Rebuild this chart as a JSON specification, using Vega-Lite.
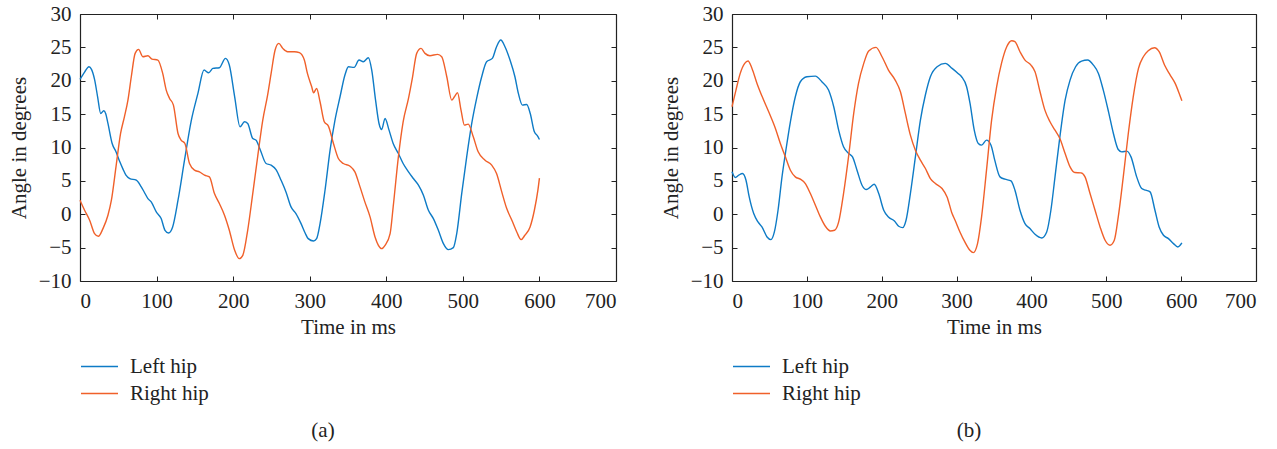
{
  "$schema": "https://vega.github.io/schema/vega-lite/v6.json",
  "padding": {"left": 8, "top": 3, "right": 5, "bottom": 2},
  "background": "white",
  "config": {
    "font": "Liberation Serif",
    "view": {"stroke": null},
    "axis": {
      "labelFont": "Liberation Serif", "titleFont": "Liberation Serif",
      "labelFontSize": 21, "titleFontSize": 21, "titleFontWeight": "normal",
      "labelColor": "#222", "titleColor": "#222",
      "domainColor": "#222", "tickColor": "#222", "domainWidth": 1.2, "tickWidth": 1,
      "grid": false, "tickSize": -5
    },
    "legend": {"labelFont": "Liberation Serif", "labelFontSize": 21, "labelColor": "#222"},
    "title": {"font": "Liberation Serif", "fontSize": 21, "fontWeight": "normal", "color": "#222"}
  },
  "datasets": {
    "a": [
      {"series":"Left hip","time":0,"angle":20.2},{"series":"Left hip","time":6,"angle":21.3},{"series":"Left hip","time":11.7,"angle":22.1},{"series":"Left hip","time":15,"angle":21.7},{"series":"Left hip","time":19,"angle":20.2},{"series":"Left hip","time":23,"angle":17.6},{"series":"Left hip","time":27,"angle":15.1},{"series":"Left hip","time":31,"angle":15.5},{"series":"Left hip","time":33.5,"angle":15.1},{"series":"Left hip","time":36.5,"angle":13.6},{"series":"Left hip","time":42,"angle":10.6},{"series":"Left hip","time":47,"angle":9.35},{"series":"Left hip","time":52,"angle":7.85},{"series":"Left hip","time":56,"angle":6.8},{"series":"Left hip","time":60,"angle":5.85},{"series":"Left hip","time":65,"angle":5.35},{"series":"Left hip","time":73.5,"angle":5.1},{"series":"Left hip","time":80,"angle":4.1},{"series":"Left hip","time":84,"angle":3.3},{"series":"Left hip","time":88.7,"angle":2.35},{"series":"Left hip","time":93,"angle":1.85},{"series":"Left hip","time":99.6,"angle":0.35},{"series":"Left hip","time":106,"angle":-0.65},{"series":"Left hip","time":111,"angle":-2.4},{"series":"Left hip","time":115.6,"angle":-2.8},{"series":"Left hip","time":121,"angle":-1.9},{"series":"Left hip","time":128,"angle":2.1},{"series":"Left hip","time":136.5,"angle":8.1},{"series":"Left hip","time":145,"angle":13.85},{"series":"Left hip","time":154,"angle":18.1},{"series":"Left hip","time":162,"angle":21.6},{"series":"Left hip","time":168,"angle":21.2},{"series":"Left hip","time":173.5,"angle":21.85},{"series":"Left hip","time":182,"angle":21.95},{"series":"Left hip","time":190,"angle":23.35},{"series":"Left hip","time":195,"angle":22.35},{"series":"Left hip","time":202,"angle":17.6},{"series":"Left hip","time":209,"angle":13.1},{"series":"Left hip","time":214.8,"angle":13.85},{"series":"Left hip","time":219,"angle":13.6},{"series":"Left hip","time":225.6,"angle":11.35},{"series":"Left hip","time":230,"angle":11.1},{"series":"Left hip","time":235.6,"angle":9.6},{"series":"Left hip","time":243,"angle":7.6},{"series":"Left hip","time":249.6,"angle":7.35},{"series":"Left hip","time":256,"angle":6.7},{"series":"Left hip","time":262.6,"angle":5.1},{"series":"Left hip","time":269,"angle":3.35},{"series":"Left hip","time":275.6,"angle":1.1},{"series":"Left hip","time":282,"angle":0.1},{"series":"Left hip","time":288.7,"angle":-1.4},{"series":"Left hip","time":294,"angle":-2.8},{"series":"Left hip","time":298,"angle":-3.65},{"series":"Left hip","time":305,"angle":-4.0},{"series":"Left hip","time":309,"angle":-3.65},{"series":"Left hip","time":313.5,"angle":-1.4},{"series":"Left hip","time":320,"angle":3.6},{"series":"Left hip","time":326.6,"angle":9.6},{"series":"Left hip","time":333,"angle":14.1},{"series":"Left hip","time":339.6,"angle":17.6},{"series":"Left hip","time":346,"angle":20.85},{"series":"Left hip","time":350.5,"angle":22.1},{"series":"Left hip","time":358,"angle":22.0},{"series":"Left hip","time":364.4,"angle":23.1},{"series":"Left hip","time":370,"angle":22.85},{"series":"Left hip","time":376.6,"angle":23.45},{"series":"Left hip","time":381,"angle":21.6},{"series":"Left hip","time":386,"angle":17.1},{"series":"Left hip","time":390.5,"angle":13.6},{"series":"Left hip","time":394,"angle":12.7},{"series":"Left hip","time":398.4,"angle":14.35},{"series":"Left hip","time":403.6,"angle":12.6},{"series":"Left hip","time":409,"angle":10.6},{"series":"Left hip","time":415.8,"angle":9.1},{"series":"Left hip","time":422,"angle":7.6},{"series":"Left hip","time":429,"angle":6.35},{"series":"Left hip","time":435.4,"angle":5.35},{"series":"Left hip","time":442,"angle":4.35},{"series":"Left hip","time":448.5,"angle":2.85},{"series":"Left hip","time":455,"angle":0.6},{"series":"Left hip","time":461.5,"angle":-0.65},{"series":"Left hip","time":468,"angle":-2.4},{"series":"Left hip","time":474.6,"angle":-4.4},{"series":"Left hip","time":481,"angle":-5.3},{"series":"Left hip","time":487.6,"angle":-5.0},{"series":"Left hip","time":492,"angle":-2.9},{"series":"Left hip","time":498.5,"angle":3.1},{"series":"Left hip","time":505,"angle":8.6},{"series":"Left hip","time":511.6,"angle":13.6},{"series":"Left hip","time":518,"angle":17.35},{"series":"Left hip","time":524.6,"angle":20.6},{"series":"Left hip","time":531,"angle":22.85},{"series":"Left hip","time":538.5,"angle":23.35},{"series":"Left hip","time":544,"angle":25.1},{"series":"Left hip","time":549.5,"angle":26.1},{"series":"Left hip","time":555,"angle":25.1},{"series":"Left hip","time":561.6,"angle":23.1},{"series":"Left hip","time":568,"angle":20.6},{"series":"Left hip","time":572.5,"angle":18.1},{"series":"Left hip","time":577.7,"angle":16.35},{"series":"Left hip","time":583.4,"angle":16.45},{"series":"Left hip","time":588,"angle":15.1},{"series":"Left hip","time":593.4,"angle":12.35},{"series":"Left hip","time":597,"angle":11.8},{"series":"Left hip","time":600,"angle":11.2},
      {"series":"Right hip","time":0,"angle":2.1},{"series":"Right hip","time":6,"angle":0.6},{"series":"Right hip","time":12.6,"angle":-0.9},{"series":"Right hip","time":19,"angle":-2.9},{"series":"Right hip","time":24,"angle":-3.3},{"series":"Right hip","time":30,"angle":-2.15},{"series":"Right hip","time":36.5,"angle":-0.15},{"series":"Right hip","time":41,"angle":2.1},{"series":"Right hip","time":47,"angle":7.1},{"series":"Right hip","time":53,"angle":12.1},{"series":"Right hip","time":58,"angle":14.6},{"series":"Right hip","time":62.6,"angle":17.1},{"series":"Right hip","time":67,"angle":20.6},{"series":"Right hip","time":72,"angle":24.1},{"series":"Right hip","time":76.5,"angle":24.7},{"series":"Right hip","time":82,"angle":23.6},{"series":"Right hip","time":88.7,"angle":23.75},{"series":"Right hip","time":94,"angle":23.25},{"series":"Right hip","time":101.7,"angle":23.1},{"series":"Right hip","time":108,"angle":21.1},{"series":"Right hip","time":112.6,"angle":18.6},{"series":"Right hip","time":117,"angle":17.35},{"series":"Right hip","time":122,"angle":16.35},{"series":"Right hip","time":128,"angle":12.1},{"series":"Right hip","time":132,"angle":11.1},{"series":"Right hip","time":137,"angle":10.6},{"series":"Right hip","time":143,"angle":7.6},{"series":"Right hip","time":149.6,"angle":6.6},{"series":"Right hip","time":156,"angle":6.35},{"series":"Right hip","time":162.6,"angle":5.85},{"series":"Right hip","time":169,"angle":5.6},{"series":"Right hip","time":175.6,"angle":3.1},{"series":"Right hip","time":182,"angle":1.6},{"series":"Right hip","time":188.7,"angle":-0.15},{"series":"Right hip","time":195,"angle":-2.4},{"series":"Right hip","time":202,"angle":-5.4},{"series":"Right hip","time":208,"angle":-6.65},{"series":"Right hip","time":212.6,"angle":-6.15},{"series":"Right hip","time":219,"angle":-2.4},{"series":"Right hip","time":225.6,"angle":3.1},{"series":"Right hip","time":232,"angle":8.6},{"series":"Right hip","time":238.7,"angle":14.1},{"series":"Right hip","time":245,"angle":17.85},{"series":"Right hip","time":249.6,"angle":21.1},{"series":"Right hip","time":254.8,"angle":24.6},{"series":"Right hip","time":259.6,"angle":25.6},{"series":"Right hip","time":264.8,"angle":24.85},{"series":"Right hip","time":271,"angle":24.35},{"series":"Right hip","time":280,"angle":24.35},{"series":"Right hip","time":286.5,"angle":24.2},{"series":"Right hip","time":293,"angle":23.1},{"series":"Right hip","time":297,"angle":21.1},{"series":"Right hip","time":302.6,"angle":19.1},{"series":"Right hip","time":305,"angle":18.2},{"series":"Right hip","time":309,"angle":18.85},{"series":"Right hip","time":313.5,"angle":16.85},{"series":"Right hip","time":319,"angle":13.85},{"series":"Right hip","time":324.4,"angle":13.2},{"series":"Right hip","time":331,"angle":10.6},{"series":"Right hip","time":337.4,"angle":8.35},{"series":"Right hip","time":344,"angle":7.6},{"series":"Right hip","time":352.7,"angle":7.2},{"series":"Right hip","time":359,"angle":6.35},{"series":"Right hip","time":365.7,"angle":4.1},{"series":"Right hip","time":372,"angle":1.85},{"series":"Right hip","time":378.8,"angle":-0.4},{"series":"Right hip","time":385.3,"angle":-3.4},{"series":"Right hip","time":389.7,"angle":-4.65},{"series":"Right hip","time":394,"angle":-5.15},{"series":"Right hip","time":398.4,"angle":-4.65},{"series":"Right hip","time":405,"angle":-2.9},{"series":"Right hip","time":409,"angle":1.1},{"series":"Right hip","time":415.8,"angle":8.6},{"series":"Right hip","time":422,"angle":13.85},{"series":"Right hip","time":429,"angle":17.35},{"series":"Right hip","time":434,"angle":20.35},{"series":"Right hip","time":439.7,"angle":24.1},{"series":"Right hip","time":445.4,"angle":24.85},{"series":"Right hip","time":450.6,"angle":24.1},{"series":"Right hip","time":457,"angle":23.75},{"series":"Right hip","time":467,"angle":23.95},{"series":"Right hip","time":472.4,"angle":23.6},{"series":"Right hip","time":479,"angle":20.6},{"series":"Right hip","time":485.5,"angle":17.1},{"series":"Right hip","time":489,"angle":17.6},{"series":"Right hip","time":493,"angle":18.2},{"series":"Right hip","time":497.6,"angle":15.6},{"series":"Right hip","time":502,"angle":13.35},{"series":"Right hip","time":507,"angle":13.5},{"series":"Right hip","time":513.6,"angle":11.6},{"series":"Right hip","time":520,"angle":9.35},{"series":"Right hip","time":529,"angle":8.1},{"series":"Right hip","time":537.7,"angle":7.35},{"series":"Right hip","time":544,"angle":6.1},{"series":"Right hip","time":550.8,"angle":3.35},{"series":"Right hip","time":557.3,"angle":0.85},{"series":"Right hip","time":564,"angle":-0.9},{"series":"Right hip","time":570.4,"angle":-2.65},{"series":"Right hip","time":576,"angle":-3.8},{"series":"Right hip","time":581,"angle":-3.15},{"series":"Right hip","time":587.8,"angle":-1.9},{"series":"Right hip","time":593.4,"angle":0.6},{"series":"Right hip","time":598,"angle":3.6},{"series":"Right hip","time":600,"angle":5.4}
    ],
    "b": [
      {"series":"Left hip","time":0,"angle":6.35},{"series":"Left hip","time":4.5,"angle":5.5},{"series":"Left hip","time":9,"angle":5.85},{"series":"Left hip","time":14,"angle":6.1},{"series":"Left hip","time":18.7,"angle":5.1},{"series":"Left hip","time":23,"angle":2.6},{"series":"Left hip","time":29,"angle":0.1},{"series":"Left hip","time":34.7,"angle":-1.15},{"series":"Left hip","time":40,"angle":-1.9},{"series":"Left hip","time":46.8,"angle":-3.4},{"series":"Left hip","time":52,"angle":-3.8},{"series":"Left hip","time":56.6,"angle":-2.65},{"series":"Left hip","time":61.5,"angle":0.6},{"series":"Left hip","time":66.8,"angle":5.6},{"series":"Left hip","time":72,"angle":9.6},{"series":"Left hip","time":78,"angle":13.85},{"series":"Left hip","time":84.6,"angle":17.6},{"series":"Left hip","time":91.3,"angle":19.85},{"series":"Left hip","time":100,"angle":20.6},{"series":"Left hip","time":111.4,"angle":20.7},{"series":"Left hip","time":120,"angle":19.85},{"series":"Left hip","time":129,"angle":18.6},{"series":"Left hip","time":135.9,"angle":16.1},{"series":"Left hip","time":142.5,"angle":12.6},{"series":"Left hip","time":149,"angle":10.1},{"series":"Left hip","time":156,"angle":9.1},{"series":"Left hip","time":161,"angle":8.6},{"series":"Left hip","time":167,"angle":6.6},{"series":"Left hip","time":173.7,"angle":4.35},{"series":"Left hip","time":179.5,"angle":3.7},{"series":"Left hip","time":185,"angle":4.1},{"series":"Left hip","time":190,"angle":4.5},{"series":"Left hip","time":196,"angle":3.1},{"series":"Left hip","time":202.7,"angle":0.6},{"series":"Left hip","time":209,"angle":-0.4},{"series":"Left hip","time":217,"angle":-1.0},{"series":"Left hip","time":222.7,"angle":-1.8},{"series":"Left hip","time":228,"angle":-2.0},{"series":"Left hip","time":232.5,"angle":-0.9},{"series":"Left hip","time":238.3,"angle":3.1},{"series":"Left hip","time":245,"angle":8.6},{"series":"Left hip","time":251.7,"angle":14.1},{"series":"Left hip","time":258.4,"angle":17.9},{"series":"Left hip","time":265,"angle":20.6},{"series":"Left hip","time":274,"angle":22.1},{"series":"Left hip","time":285,"angle":22.6},{"series":"Left hip","time":294,"angle":21.85},{"series":"Left hip","time":302,"angle":21.1},{"series":"Left hip","time":306.7,"angle":20.6},{"series":"Left hip","time":313.4,"angle":19.1},{"series":"Left hip","time":318,"angle":16.6},{"series":"Left hip","time":323.6,"angle":12.6},{"series":"Left hip","time":329,"angle":10.6},{"series":"Left hip","time":333.4,"angle":10.35},{"series":"Left hip","time":340,"angle":11.1},{"series":"Left hip","time":346,"angle":10.35},{"series":"Left hip","time":351,"angle":8.1},{"series":"Left hip","time":358,"angle":5.6},{"series":"Left hip","time":364.6,"angle":5.25},{"series":"Left hip","time":372.7,"angle":5.0},{"series":"Left hip","time":378,"angle":3.6},{"series":"Left hip","time":384.7,"angle":0.6},{"series":"Left hip","time":391.4,"angle":-1.4},{"series":"Left hip","time":398,"angle":-2.15},{"series":"Left hip","time":404.8,"angle":-3.0},{"series":"Left hip","time":413.7,"angle":-3.55},{"series":"Left hip","time":420.4,"angle":-2.65},{"series":"Left hip","time":426,"angle":0.6},{"series":"Left hip","time":431.5,"angle":5.6},{"series":"Left hip","time":438,"angle":11.6},{"series":"Left hip","time":445,"angle":17.1},{"series":"Left hip","time":451.6,"angle":20.1},{"series":"Left hip","time":459,"angle":22.1},{"series":"Left hip","time":467,"angle":22.95},{"series":"Left hip","time":475,"angle":23.1},{"series":"Left hip","time":482.8,"angle":22.35},{"series":"Left hip","time":489.5,"angle":21.1},{"series":"Left hip","time":496,"angle":18.6},{"series":"Left hip","time":503,"angle":15.35},{"series":"Left hip","time":509.5,"angle":12.1},{"series":"Left hip","time":516,"angle":9.7},{"series":"Left hip","time":520.7,"angle":9.35},{"series":"Left hip","time":527.4,"angle":9.45},{"series":"Left hip","time":533,"angle":8.6},{"series":"Left hip","time":540.6,"angle":5.6},{"series":"Left hip","time":547.3,"angle":3.85},{"series":"Left hip","time":552.7,"angle":3.6},{"series":"Left hip","time":558.5,"angle":3.35},{"series":"Left hip","time":565,"angle":0.6},{"series":"Left hip","time":570.6,"angle":-1.9},{"series":"Left hip","time":576.4,"angle":-3.15},{"series":"Left hip","time":583,"angle":-3.65},{"series":"Left hip","time":589.8,"angle":-4.4},{"series":"Left hip","time":595.6,"angle":-4.9},{"series":"Left hip","time":601,"angle":-4.3},
      {"series":"Right hip","time":0,"angle":16.1},{"series":"Right hip","time":5.3,"angle":18.6},{"series":"Right hip","time":11,"angle":21.1},{"series":"Right hip","time":17,"angle":22.6},{"series":"Right hip","time":21.4,"angle":22.95},{"series":"Right hip","time":26.7,"angle":21.85},{"series":"Right hip","time":33.4,"angle":19.6},{"series":"Right hip","time":40,"angle":17.7},{"series":"Right hip","time":49,"angle":15.35},{"series":"Right hip","time":58,"angle":12.85},{"series":"Right hip","time":64.6,"angle":10.6},{"series":"Right hip","time":71.3,"angle":8.6},{"series":"Right hip","time":78,"angle":6.6},{"series":"Right hip","time":84.6,"angle":5.6},{"series":"Right hip","time":91.3,"angle":5.25},{"series":"Right hip","time":98,"angle":4.6},{"series":"Right hip","time":104.7,"angle":3.1},{"series":"Right hip","time":111.4,"angle":1.35},{"series":"Right hip","time":118,"angle":-0.4},{"series":"Right hip","time":124.7,"angle":-1.8},{"series":"Right hip","time":131.4,"angle":-2.5},{"series":"Right hip","time":137,"angle":-2.4},{"series":"Right hip","time":142.5,"angle":-1.15},{"series":"Right hip","time":149,"angle":3.1},{"series":"Right hip","time":156,"angle":8.9},{"series":"Right hip","time":162.6,"angle":15.1},{"series":"Right hip","time":169,"angle":19.6},{"series":"Right hip","time":176,"angle":22.6},{"series":"Right hip","time":182.6,"angle":24.45},{"series":"Right hip","time":192.4,"angle":25.0},{"series":"Right hip","time":200.4,"angle":23.6},{"series":"Right hip","time":209,"angle":21.6},{"series":"Right hip","time":218,"angle":20.1},{"series":"Right hip","time":225,"angle":18.35},{"series":"Right hip","time":231.6,"angle":15.1},{"series":"Right hip","time":238.3,"angle":11.85},{"series":"Right hip","time":245,"angle":9.6},{"series":"Right hip","time":251.7,"angle":8.1},{"series":"Right hip","time":258.4,"angle":6.85},{"series":"Right hip","time":265,"angle":5.35},{"series":"Right hip","time":271.7,"angle":4.6},{"series":"Right hip","time":280.6,"angle":3.85},{"series":"Right hip","time":287.3,"angle":2.6},{"series":"Right hip","time":294,"angle":0.1},{"series":"Right hip","time":298,"angle":-0.9},{"series":"Right hip","time":304.5,"angle":-2.65},{"series":"Right hip","time":311,"angle":-4.15},{"series":"Right hip","time":317.8,"angle":-5.4},{"series":"Right hip","time":322.3,"angle":-5.75},{"series":"Right hip","time":328,"angle":-4.4},{"series":"Right hip","time":333.4,"angle":-0.4},{"series":"Right hip","time":340,"angle":6.6},{"series":"Right hip","time":346.8,"angle":14.1},{"series":"Right hip","time":353.5,"angle":19.1},{"series":"Right hip","time":360,"angle":22.6},{"series":"Right hip","time":367,"angle":25.1},{"series":"Right hip","time":373.6,"angle":26.0},{"series":"Right hip","time":378,"angle":25.85},{"series":"Right hip","time":384.7,"angle":24.35},{"series":"Right hip","time":391.4,"angle":23.1},{"series":"Right hip","time":399.4,"angle":22.35},{"series":"Right hip","time":404.8,"angle":21.35},{"series":"Right hip","time":411.5,"angle":18.35},{"series":"Right hip","time":418,"angle":15.6},{"series":"Right hip","time":424.8,"angle":13.85},{"series":"Right hip","time":431.5,"angle":12.6},{"series":"Right hip","time":438,"angle":11.35},{"series":"Right hip","time":445,"angle":9.1},{"series":"Right hip","time":451.6,"angle":7.1},{"series":"Right hip","time":458,"angle":6.25},{"series":"Right hip","time":466.3,"angle":6.2},{"series":"Right hip","time":471.6,"angle":5.6},{"series":"Right hip","time":478.3,"angle":3.1},{"series":"Right hip","time":485,"angle":0.6},{"series":"Right hip","time":491.7,"angle":-1.9},{"series":"Right hip","time":498.4,"angle":-3.9},{"series":"Right hip","time":505,"angle":-4.65},{"series":"Right hip","time":510.7,"angle":-3.9},{"series":"Right hip","time":516,"angle":-0.4},{"series":"Right hip","time":522.7,"angle":5.6},{"series":"Right hip","time":529.4,"angle":12.1},{"series":"Right hip","time":536,"angle":17.6},{"series":"Right hip","time":543,"angle":21.85},{"series":"Right hip","time":549.5,"angle":23.6},{"series":"Right hip","time":556,"angle":24.5},{"series":"Right hip","time":564.4,"angle":24.95},{"series":"Right hip","time":570.6,"angle":24.35},{"series":"Right hip","time":577.8,"angle":22.35},{"series":"Right hip","time":585.4,"angle":20.85},{"series":"Right hip","time":592,"angle":19.6},{"series":"Right hip","time":597.4,"angle":18.1},{"series":"Right hip","time":601,"angle":17.0}
    ]
  },
  "bounds": "flush",
  "spacing": 116,
  "hconcat": [
    {
      "width": 536, "height": 267,
      "data": {"name": "a"},
      "title": {"text": "(a)", "orient": "bottom", "anchor": "middle", "frame": "group", "dx": -25, "offset": 16},
      "layer": [
        {
          "mark": {"type": "line", "strokeWidth": 1.4, "interpolate": "monotone"},
          "encoding": {
            "x": {"field": "time", "type": "quantitative", "scale": {"domain": [0, 700], "nice": false},
                  "axis": {"orient": "bottom", "title": "Time in ms", "values": [0,100,200,300,400,500,600,700], "labelPadding": 14, "titlePadding": 5}},
            "y": {"field": "angle", "type": "quantitative", "scale": {"domain": [-10, 30], "nice": false},
                  "axis": {"orient": "left", "title": "Angle in degrees", "values": [-10,-5,0,5,10,15,20,25,30], "labelPadding": 14, "titlePadding": 9}},
            "color": {"field": "series", "type": "nominal",
                      "scale": {"domain": ["Left hip", "Right hip"], "range": ["#0E7BC6", "#F0602A"]},
                      "legend": {"orient": "none", "legendX": 0, "legendY": 333, "title": null, "symbolType": "stroke", "symbolSize": 1369, "symbolStrokeWidth": 1.5, "labelOffset": 11, "rowPadding": -3, "gridAlign": "none"}}
          }
        },
        {
          "mark": {"type": "line", "opacity": 0},
          "encoding": {
            "x": {"field": "time", "type": "quantitative", "axis": {"orient": "top", "labels": false, "title": null, "values": [0,100,200,300,400,500,600,700]}},
            "y": {"field": "angle", "type": "quantitative", "axis": {"orient": "right", "labels": false, "title": null, "values": [-10,-5,0,5,10,15,20,25,30]}},
            "detail": {"field": "series"}
          }
        }
      ],
      "resolve": {"axis": {"x": "independent", "y": "independent"}}
    },
    {
      "width": 524, "height": 267,
      "data": {"name": "b"},
      "title": {"text": "(b)", "orient": "bottom", "anchor": "middle", "frame": "group", "dx": -25, "offset": 16},
      "layer": [
        {
          "mark": {"type": "line", "strokeWidth": 1.4, "interpolate": "monotone"},
          "encoding": {
            "x": {"field": "time", "type": "quantitative", "scale": {"domain": [0, 700], "nice": false},
                  "axis": {"orient": "bottom", "title": "Time in ms", "values": [0,100,200,300,400,500,600,700], "labelPadding": 14, "titlePadding": 5}},
            "y": {"field": "angle", "type": "quantitative", "scale": {"domain": [-10, 30], "nice": false},
                  "axis": {"orient": "left", "title": "Angle in degrees", "values": [-10,-5,0,5,10,15,20,25,30], "labelPadding": 14, "titlePadding": 9}},
            "color": {"field": "series", "type": "nominal",
                      "scale": {"domain": ["Left hip", "Right hip"], "range": ["#0E7BC6", "#F0602A"]},
                      "legend": {"orient": "none", "legendX": 0, "legendY": 333, "title": null, "symbolType": "stroke", "symbolSize": 1369, "symbolStrokeWidth": 1.5, "labelOffset": 11, "rowPadding": -3, "gridAlign": "none"}}
          }
        },
        {
          "mark": {"type": "line", "opacity": 0},
          "encoding": {
            "x": {"field": "time", "type": "quantitative", "axis": {"orient": "top", "labels": false, "title": null, "values": [0,100,200,300,400,500,600,700]}},
            "y": {"field": "angle", "type": "quantitative", "axis": {"orient": "right", "labels": false, "title": null, "values": [-10,-5,0,5,10,15,20,25,30]}},
            "detail": {"field": "series"}
          }
        }
      ],
      "resolve": {"axis": {"x": "independent", "y": "independent"}}
    }
  ],
  "resolve": {"scale": {"color": "independent"}}
}
